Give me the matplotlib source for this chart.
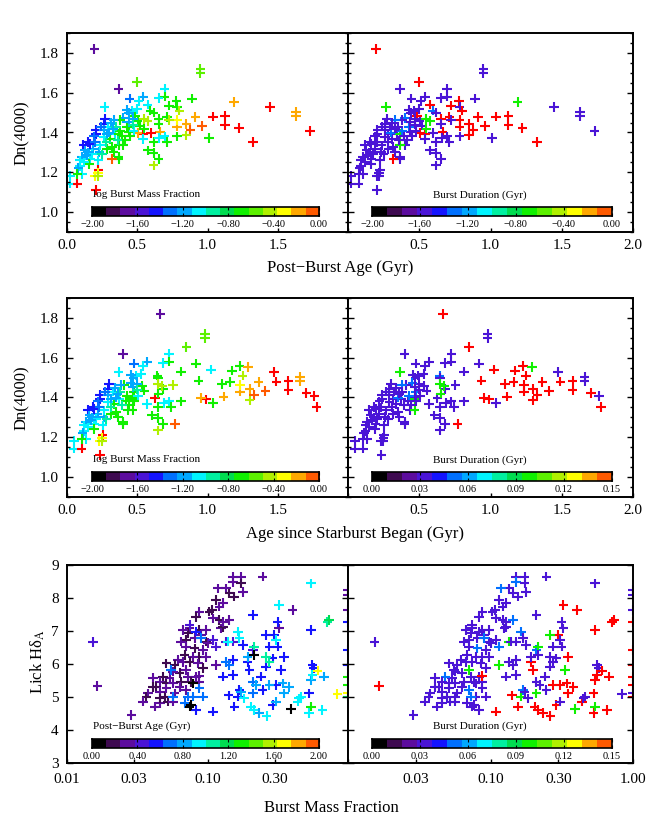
import numpy as np
import matplotlib
matplotlib.use('Agg')
import matplotlib.pyplot as plt
from matplotlib.colors import ListedColormap, BoundaryNorm
from matplotlib.ticker import NullLocator, MultipleLocator

plt.rcParams['font.family'] = ['Liberation Serif', 'DejaVu Serif']
plt.rcParams['mathtext.fontset'] = 'stix'

# ---- galaxies in the top and middle rows ----
post_age = [0.195, 0.367, 0.95, 0.95, 0.50, 0.695, 0.445, 0.54, 0.695, 0.267,
            0.51, 0.574, 0.652, 0.779, 0.89, 0.724, 0.783, 0.80, 1.19, 1.04,
            1.126, 1.126, 1.224, 1.326, 1.445, 1.63, 1.63, 1.731, 0.914, 0.962,
            0.879, 0.85, 0.783, 0.783, 0.85, 1.01, 0.783, 0.712, 0.617, 0.576,
            0.617, 0.652, 0.617, 0.664, 0.598, 0.54, 0.502, 0.657, 0.695, 0.54,
            0.652, 0.652, 0.712, 0.724, 0.593, 0.617, 0.545, 0.574, 0.521, 0.502,
            0.486, 0.462, 0.50, 0.426, 0.443, 0.469, 0.402, 0.379, 0.271, 0.26,
            0.207, 0.207, 0.117, 0.152, 0.26, 0.295, 0.331, 0.343, 0.307, 0.367,
            0.39, 0.414, 0.402, 0.367, 0.319, 0.331, 0.283, 0.367, 0.367, 0.319,
            0.231, 0.236, 0.188, 0.176, 0.164, 0.16, 0.224, 0.224, 0.219, 0.20,
            0.219, 0.205, 0.105, 0.093, 0.093, 0.081, 0.105, 0.074, 0.021, 0.021,
            0.074, 0.140, 0.129, 0.164, 0.26, 0.283, 0.426, 0.438, 0.438, 0.474,
            0.379, 0.31, 0.24, 0.19, 0.15, 0.12, 0.28, 0.30, 0.35, 0.36,
            0.45, 0.47, 0.55, 0.25, 0.20, 0.33]
dn4000 = [1.82, 1.62, 1.72, 1.70, 1.655, 1.62, 1.57, 1.58, 1.58, 1.527,
          1.557, 1.54, 1.573, 1.557, 1.57, 1.535, 1.53, 1.51, 1.552, 1.48,
          1.485, 1.438, 1.422, 1.352, 1.527, 1.505, 1.483, 1.407, 1.477, 1.432,
          1.413, 1.443, 1.43, 1.463, 1.385, 1.372, 1.38, 1.352, 1.352, 1.31,
          1.297, 1.268, 1.235, 1.405, 1.398, 1.39, 1.397, 1.373, 1.38, 1.368,
          1.468, 1.443, 1.477, 1.463, 1.51, 1.50, 1.468, 1.457, 1.435, 1.46,
          1.485, 1.51, 1.518, 1.513, 1.497, 1.468, 1.473, 1.463, 1.468, 1.443,
          1.413, 1.393, 1.338, 1.352, 1.413, 1.43, 1.463, 1.393, 1.368, 1.393,
          1.38, 1.36, 1.335, 1.335, 1.327, 1.302, 1.318, 1.277, 1.268, 1.268,
          1.302, 1.335, 1.318, 1.293, 1.268, 1.243, 1.26, 1.21, 1.198, 1.182,
          1.182, 1.11, 1.277, 1.26, 1.23, 1.223, 1.19, 1.19, 1.182, 1.143,
          1.143, 1.285, 1.31, 1.343, 1.377, 1.393, 1.427, 1.402, 1.452, 1.41,
          1.41, 1.45, 1.43, 1.38, 1.30, 1.25, 1.35, 1.40, 1.43, 1.36,
          1.38, 1.44, 1.42, 1.29, 1.35, 1.42]
log_frac = [-1.70, -1.70, -0.55, -0.55, -0.60, -1.05, -1.30, -1.20, -0.70, -1.10,
            -1.05, -1.05, -1.05, -0.70, -0.70, -0.70, -0.70, -0.45, -0.20, 0.0,
            0.0, 0.0, 0.0, 0.0, 0.0, -0.20, -0.20, 0.0, -0.20, -0.08,
            -0.08, -0.20, -0.20, -0.30, -0.45, -0.70, -0.70, -0.70, -0.70, -0.70,
            -0.70, -0.70, -0.45, -0.20, 0.0, 0.0, -0.20, -1.05, -1.05, -1.05,
            -0.70, -0.70, -0.70, -0.45, -0.70, -0.70, -0.45, -0.45, -0.70, -0.70,
            -0.70, -1.05, -1.05, -1.20, -1.20, -1.20, -1.20, -0.70, -1.45, -1.45,
            -1.45, -1.45, -1.45, -1.45, -1.20, -1.05, -1.20, -1.05, -0.70, -0.70,
            -0.70, -0.70, -0.70, -0.70, -0.70, -0.70, -0.70, -0.70, -0.70, -0.08,
            -1.20, -1.05, -1.20, -1.05, -1.05, -0.70, -1.05, 0.0, -0.30, -0.30,
            -0.45, 0.0, -1.20, -1.05, -1.05, -1.20, -1.05, -0.70, -1.05, -1.05,
            0.0, -1.20, -1.20, -1.45, -1.05, -1.20, -0.70, -0.70, -1.20, -1.05,
            -0.70, -1.20, -1.30, -1.30, -1.20, -1.05, -0.90, -1.15, -0.90, -0.90,
            -0.70, -0.90, -0.70, -0.95, -1.30, -1.15]
burst_dur = [0.47, 0.03, 0.03, 0.03, 0.35, 0.03, 0.03, 0.03, 0.03, 0.10,
             0.03, 0.45, 0.03, 0.45, 0.03, 0.45, 0.03, 0.45, 0.10, 0.45,
             0.45, 0.45, 0.48, 0.45, 0.03, 0.03, 0.03, 0.03, 0.45, 0.45,
             0.45, 0.45, 0.45, 0.45, 0.45, 0.03, 0.03, 0.03, 0.03, 0.03,
             0.03, 0.03, 0.03, 0.45, 0.03, 0.45, 0.45, 0.03, 0.03, 0.03,
             0.45, 0.03, 0.45, 0.03, 0.05, 0.03, 0.10, 0.10, 0.03, 0.03,
             0.45, 0.03, 0.03, 0.03, 0.03, 0.03, 0.05, 0.03, 0.03, 0.03,
             0.03, 0.03, 0.03, 0.03, 0.03, 0.03, 0.05, 0.03, 0.03, 0.10,
             0.03, 0.03, 0.03, 0.10, 0.03, 0.03, 0.03, 0.03, 0.03, 0.45,
             0.03, 0.03, 0.03, 0.03, 0.03, 0.03, 0.03, 0.03, 0.03, 0.03,
             0.03, 0.03, 0.03, 0.03, 0.03, 0.03, 0.03, 0.03, 0.03, 0.03,
             0.03, 0.03, 0.03, 0.03, 0.03, 0.03, 0.05, 0.03, 0.03, 0.03,
             0.05, 0.03, 0.03, 0.03, 0.03, 0.03, 0.03, 0.05, 0.03, 0.03,
             0.03, 0.03, 0.10, 0.03, 0.03, 0.03]

# ---- galaxies in the bottom row ----
log_bmf = [-1.813, -1.783, -1.541, -0.820, -0.761, -0.820, -0.761, -0.868, -0.844, -0.749,
           -0.809, -0.927, -0.939, -0.891, -0.986, -0.915, -0.969, -0.962, -0.915, -0.844,
           -0.903, -0.891, -1.057, -1.080, -1.128, -1.139, -1.175, -1.057, -1.009, -1.045,
           -1.009, -1.092, -1.151, -1.187, -1.151, -1.092, -1.033, -0.998, -1.057, -1.104,
           -1.163, -1.210, -1.234, -1.175, -1.128, -1.069, -1.151, -1.199, -1.246, -1.293,
           -1.270, -1.317, -1.340, -1.293, -1.246, -1.187, -1.139, -1.080, -1.388, -1.364,
           -1.340, -1.305, -1.340, -1.376, -1.423, -1.435, -1.459, -1.340, -1.293, -1.234,
           -1.281, -1.199, -1.151, -1.116, -1.009, -0.939, -1.033, -1.057, -1.246, -1.388,
           -1.060, -0.962, -0.868, -0.820, -0.939, -1.080, -1.128, -0.395, -0.489, -0.608,
           -0.891, -0.678, -0.501, -0.525, -0.584, -0.560, -0.501, -0.678, -0.749, -0.820,
           -0.844, -0.891, -0.820, -0.785, -0.809, -0.962, -1.080, -0.773, -0.714, -0.702,
           -0.678, -0.619, -0.608, -0.584, -0.537, -0.678, -0.537, -0.513, -0.513, -0.454,
           -0.478, -0.466, -0.265, -0.253, -0.265, -0.277, -0.241, -1.033, -1.057, -1.104,
           -1.139, -1.163, -1.045, -1.258, -1.246, -0.868, -0.856, -0.785, -0.773, -0.714,
           -0.655, -0.560, -0.738, -0.690, -0.667, -0.631, -0.761, -0.489, -0.513, -0.454,
           -0.418, -0.359, -0.336, -0.265, -0.277, -0.253, -0.170, -0.182, -0.147, -0.135,
           -0.667, -0.584, -0.560, -0.265, -0.348, -0.217, -0.076, -1.104, -1.116, -0.667,
           -0.407, -1.128, -0.850, -0.580, 0.0, 0.0, 0.0, 0.0, 0.0, 0.0,
           0.0, 0.0, 0.0, 0.0]
lick_hda = [6.66, 5.33, 4.45, 8.65, 8.65, 8.49, 8.44, 8.29, 8.14, 8.19,
            8.04, 8.29, 7.94, 7.84, 7.59, 7.74, 7.64, 7.38, 7.33, 7.33,
            7.08, 7.13, 7.59, 7.43, 7.08, 6.93, 7.03, 7.03, 7.03, 6.88,
            6.68, 6.78, 6.73, 6.68, 6.53, 6.47, 6.42, 6.63, 6.22, 6.22,
            6.27, 6.12, 5.97, 6.07, 6.07, 6.02, 5.82, 5.72, 5.77, 6.02,
            5.57, 5.62, 5.46, 5.41, 5.41, 5.46, 5.62, 5.62, 5.57, 5.31,
            5.16, 5.01, 4.81, 4.71, 5.11, 5.01, 4.86, 4.96, 5.26, 5.11,
            4.86, 5.31, 5.21, 5.46, 6.22, 5.97, 5.87, 5.46, 4.86, 5.31,
            5.64, 6.73, 6.68, 6.68, 6.53, 6.98, 7.18, 7.64, 7.08, 8.65,
            7.28, 7.48, 7.28, 6.88, 6.88, 6.53, 6.53, 6.42, 6.58, 6.12,
            5.97, 5.62, 5.67, 5.01, 4.71, 4.56, 4.61, 5.21, 6.07, 5.82,
            5.46, 5.62, 5.21, 5.92, 6.17, 5.11, 4.76, 4.86, 5.36, 6.22,
            5.82, 5.41, 7.03, 5.97, 5.52, 5.11, 5.87, 5.01, 5.26, 5.01,
            5.01, 4.81, 6.78, 5.82, 5.01, 6.07, 6.68, 6.98, 6.78, 6.22,
            5.36, 5.36, 4.96, 4.71, 4.61, 4.51, 5.16, 7.79, 6.73, 5.11,
            5.31, 4.86, 5.01, 8.44, 4.51, 5.67, 5.62, 4.61, 7.28, 7.33,
            6.53, 6.22, 6.07, 4.71, 4.96, 5.80, 5.09, 5.41, 4.76, 6.27,
            4.63, 4.71, 5.05, 4.43, 8.24, 8.09, 7.64, 7.28, 6.42, 5.97,
            5.62, 5.36, 5.11, 5.01]
age_bot = [0.45, 0.30, 0.30, 0.3, 0.3, 0.3, 0.2, 0.3, 0.2, 0.3,
           0.2, 0.3, 0.2, 0.3, 0.2, 0.3, 0.2, 0.3, 0.2, 0.3,
           0.3, 0.2, 0.3, 0.2, 0.3, 0.2, 0.3, 0.2, 0.3, 0.3,
           0.2, 0.3, 0.2, 0.3, 0.3, 0.2, 0.3, 0.3, 0.2, 0.3,
           0.2, 0.3, 0.2, 0.3, 0.2, 0.3, 0.3, 0.2, 0.3, 0.2,
           0.3, 0.2, 0.3, 0.2, 0.3, 0.2, 0.3, 0.3, 0.3, 0.2,
           0.3, 0.2, 0.3, 0.3, 0.3, 0.2, 0.3, 0.2, 0.3, 0.3,
           0.2, 0.3, 0.3, 0.2, 0.3, 0.3, 0.2, 0.3, 0.3, 0.2,
           0.3, 0.45, 0.45, 0.45, 0.45, 0.55, 0.45, 0.3, 0.3, 0.3,
           0.3, 0.55, 0.55, 0.55, 0.55, 0.55, 0.55, 0.45, 0.55, 0.55,
           0.7, 0.55, 0.55, 0.55, 0.55, 0.55, 0.55, 0.55, 0.55, 0.55,
           0.7, 0.55, 0.55, 0.55, 0.55, 0.7, 0.55, 0.8, 0.55, 0.55,
           0.55, 0.8, 0.55, 0.55, 0.8, 0.55, 0.55, 0.7, 0.7, 0.7,
           0.7, 0.7, 0.7, 0.7, 0.7, 0.7, 0.95, 0.95, 0.95, 0.8,
           0.8, 0.8, 0.95, 0.95, 0.95, 0.8, 0.8, 0.95, 0.95, 0.8,
           0.8, 0.95, 0.95, 0.95, 0.95, 0.95, 0.8, 0.95, 1.05, 1.2,
           1.05, 1.05, 1.05, 1.3, 0.95, 1.7, 1.7, 0.05, 0.05, 0.05,
           0.05, 0.05, 0.55, 0.95, 0.3, 0.3, 0.3, 0.55, 0.55, 0.55,
           1.3, 1.3, 1.7, 1.2]
dur_bot = [0.03, 0.45, 0.03, 0.03, 0.03, 0.05, 0.03, 0.03, 0.03, 0.03,
           0.03, 0.05, 0.03, 0.03, 0.03, 0.03, 0.03, 0.03, 0.03, 0.05,
           0.03, 0.03, 0.03, 0.03, 0.03, 0.03, 0.03, 0.03, 0.03, 0.03,
           0.03, 0.03, 0.03, 0.03, 0.03, 0.05, 0.03, 0.03, 0.03, 0.03,
           0.03, 0.03, 0.03, 0.03, 0.03, 0.03, 0.10, 0.03, 0.03, 0.03,
           0.03, 0.05, 0.03, 0.03, 0.03, 0.03, 0.03, 0.03, 0.03, 0.03,
           0.03, 0.03, 0.03, 0.03, 0.03, 0.03, 0.03, 0.03, 0.03, 0.03,
           0.03, 0.03, 0.05, 0.03, 0.03, 0.10, 0.03, 0.03, 0.03, 0.03,
           0.45, 0.03, 0.10, 0.03, 0.05, 0.03, 0.03, 0.45, 0.03, 0.03,
           0.03, 0.03, 0.03, 0.45, 0.10, 0.03, 0.03, 0.05, 0.03, 0.03,
           0.03, 0.03, 0.03, 0.10, 0.45, 0.45, 0.03, 0.05, 0.45, 0.45,
           0.03, 0.03, 0.03, 0.03, 0.03, 0.10, 0.45, 0.03, 0.45, 0.45,
           0.10, 0.45, 0.45, 0.03, 0.45, 0.45, 0.03, 0.03, 0.03, 0.03,
           0.05, 0.03, 0.05, 0.03, 0.03, 0.03, 0.03, 0.05, 0.03, 0.03,
           0.03, 0.45, 0.03, 0.45, 0.45, 0.45, 0.03, 0.45, 0.03, 0.45,
           0.45, 0.45, 0.03, 0.03, 0.45, 0.45, 0.45, 0.45, 0.45, 0.45,
           0.10, 0.03, 0.03, 0.10, 0.03, 0.45, 0.03, 0.03, 0.03, 0.03,
           0.10, 0.03, 0.45, 0.45, 0.03, 0.03, 0.03, 0.45, 0.45, 0.45,
           0.45, 0.45, 0.03, 0.45]

# colour bar labels
frac_labels = ['\u22122.00', '\u22121.60', '\u22121.20', '\u22120.80', '\u22120.40', '0.00']
dur_labels = ['0.00', '0.03', '0.06', '0.09', '0.12', '0.15']
age_labels = ['0.00', '0.40', '0.80', '1.20', '1.60', '2.00']

bar_colors = ['#000000', '#3e0a50', '#5c0c9e', '#4a14d6', '#1414ff', '#0070ff',
              '#00a8ff', '#00f4ff', '#00f0a0', '#00dc50', '#10f000', '#5cf000',
              '#b0f000', '#ffff00', '#ffa800', '#ff5a00']
cmap = ListedColormap(bar_colors)
cmap.set_over('#ff0000')


def bins(lo, hi):
    return BoundaryNorm(np.linspace(lo, hi, 17), 16)


fig = plt.figure(figsize=(6.64, 8.31), dpi=100)
W, H = 664.0, 831.0


def box(x0, x1, ytop, ybot):
    return [x0 / W, 1 - ybot / H, (x1 - x0) / W, (ybot - ytop) / H]


def style(ax, left_labels):
    for s in ax.spines.values():
        s.set_linewidth(1.4)
    ax.tick_params(which='both', direction='in', right=True, top=False, labelsize=11,
                   labelleft=left_labels)
    ax.tick_params(axis='y', which='major', length=4.5, width=1, pad=6)
    ax.tick_params(axis='y', which='minor', length=2.3, width=1)
    ax.tick_params(axis='x', which='major', length=3, width=1, pad=5)


def color_bar(ax, rect, labels, title, title_x):
    cax = ax.inset_axes(rect)
    cax.imshow(np.arange(16)[None, :], cmap=cmap, vmin=-0.5, vmax=15.5,
               aspect='auto', extent=[0, 16, 0, 1])
    cax.set_xticks(np.linspace(0, 16, 6))
    cax.set_xticklabels(labels)
    cax.set_yticks([])
    cax.tick_params(axis='x', direction='in', length=2.5, width=0.8, top=True,
                    labelsize=7.5, pad=2.5)
    for s in cax.spines.values():
        s.set_linewidth(1.2)
    ax.text(title_x, 0.186, title, transform=ax.transAxes, fontsize=8,
            ha='left', va='center')


def scat(ax, x, y, v, norm):
    ax.scatter(x, y, c=v, cmap=cmap, norm=norm, marker='+', s=48, linewidths=1.5)


age_began = np.array(post_age) + np.array(burst_dur)
bmf = 10 ** np.array(log_bmf)

rows = [(33, 232), (298, 497)]
xs = [post_age, age_began]
for r, (yt, yb) in enumerate(rows):
    axl = fig.add_axes(box(67, 348, yt, yb))
    axr = fig.add_axes(box(348, 633, yt, yb))
    scat(axl, xs[r], dn4000, log_frac, bins(-2, 0))
    scat(axr, xs[r], dn4000, burst_dur, bins(0, 0.15))
    for ax, lab in [(axl, ['0.0', '0.5', '1.0', '1.5', '']),
                    (axr, ['', '0.5', '1.0', '1.5', '2.0'])]:
        ax.set_xlim(0, 2.0)
        ax.set_ylim(0.9, 1.9)
        ax.set_xticks([0, 0.5, 1.0, 1.5, 2.0])
        ax.set_xticklabels(lab)
        ax.set_yticks([1.0, 1.2, 1.4, 1.6, 1.8])
        ax.yaxis.set_minor_locator(MultipleLocator(0.05))
        style(ax, ax is axl)
    color_bar(axl, [0.089, 0.08, 0.808, 0.044], frac_labels,
              'log Burst Mass Fraction', 0.093)
    color_bar(axr, [0.084, 0.08, 0.842, 0.044],
              frac_labels if r == 0 else dur_labels, 'Burst Duration (Gyr)', 0.298)
    fig.text(22 / W, 1 - (yt + yb) / 2 / H, 'Dn(4000)', rotation=90,
             ha='center', va='center', fontsize=12)

fig.text(340 / W, 1 - 268 / H, 'Post\u2212Burst Age (Gyr)', ha='center', va='center', fontsize=12)
fig.text(355 / W, 1 - 534 / H, 'Age since Starburst Began (Gyr)', ha='center', va='center', fontsize=12)

# bottom row
axl = fig.add_axes(box(67, 348, 565, 763))
axr = fig.add_axes(box(348, 633, 565, 763))
scat(axl, bmf, lick_hda, age_bot, bins(0, 2))
scat(axr, bmf, lick_hda, dur_bot, bins(0, 0.15))
for ax, lab in [(axl, ['0.01', '0.03', '0.10', '0.30', '']),
                (axr, ['', '0.03', '0.10', '0.30', '1.00'])]:
    ax.set_xscale('log')
    ax.set_xlim(0.01, 1.0)
    ax.set_ylim(3, 9)
    ax.set_xticks([0.01, 0.03, 0.1, 0.3, 1.0])
    ax.set_xticklabels(lab)
    ax.xaxis.set_minor_locator(NullLocator())
    ax.set_yticks(range(3, 10))
    style(ax, ax is axl)
    ax.tick_params(axis='x', pad=7)
color_bar(axl, [0.089, 0.075, 0.808, 0.044], age_labels, 'Post\u2212Burst Age (Gyr)', 0.093)
color_bar(axr, [0.084, 0.075, 0.842, 0.044], dur_labels, 'Burst Duration (Gyr)', 0.298)
fig.text(38 / W, 1 - 662 / H, 'Lick H\u03b4$_{\\rm A}$', rotation=90,
         ha='center', va='center', fontsize=12)
fig.text(331 / W, 1 - 808 / H, 'Burst Mass Fraction', ha='center', va='center', fontsize=12)

fig.savefig('out.png', dpi=100)
